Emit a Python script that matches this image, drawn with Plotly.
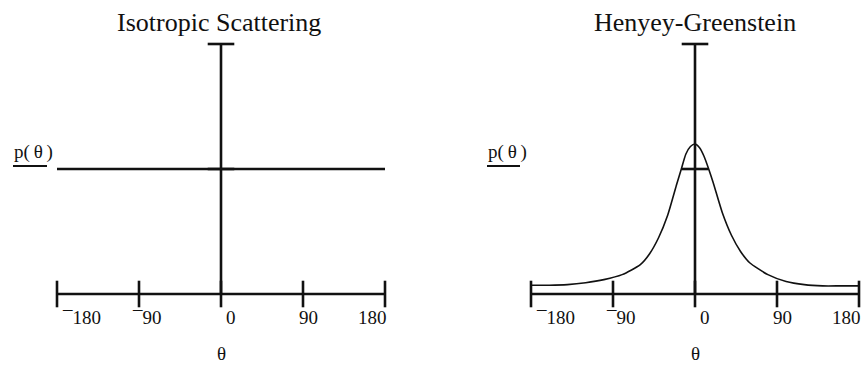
import plotly.graph_objects as go

# ---------------- data ----------------
titles = ["Isotropic Scattering", "Henyey-Greenstein"]
tick_vals = [-180, -90, 0, 90, 180]
tick_text = ["\u00af180", "\u00af90", "0", "90", "180"]
x_label = "\u03b8"
y_label = "p(\u2009\u03b8\u2009)"

iso_theta = [-180, 180]
iso_p = [1.0, 1.0]

hg_theta = [-180, -160, -140, -120, -100, -80, -60, -50, -40, -30, -20, -15, -10, -5, 0,
            5, 10, 15, 20, 30, 40, 50, 60, 80, 100, 120, 140, 160, 180]
hg_p = [0.07, 0.07, 0.075, 0.09, 0.115, 0.155, 0.235, 0.32, 0.45, 0.63, 0.88, 1.0, 1.12, 1.18, 1.20,
        1.17, 1.10, 1.0, 0.89, 0.65, 0.47, 0.34, 0.25, 0.155, 0.10, 0.075, 0.065, 0.065, 0.065]

y_axis_top = 2.0
y_mid_tick = 1.0

# ---------------- layout geometry (window pixels) ----------------
W, H = 864, 365
SCALE_X = 0.9111          # px per degree
SCALE_Y = 125.0           # px per unit
AXIS_Y_PX = 294
CENTERS = [221, 695]
X_DOMAINS_PX = [(20, 420), (450, 864)]
Y_DOMAIN_PX = (28, 318)

FONT = "Liberation Serif, Times New Roman, serif"
INK = "#111111"
LW = 2.6

label_xshift = [24, 8, 10, 5, -13]


def fx(px):
    return px / W


def fy(px):
    return 1 - px / H


fig = go.Figure()

for i in range(2):
    xa = "x" if i == 0 else "x2"
    ya = "y" if i == 0 else "y2"
    c = CENTERS[i]
    a, b = X_DOMAINS_PX[i]
    xr = [(a - c) / SCALE_X, (b - c) / SCALE_X]
    yr = [(AXIS_Y_PX - Y_DOMAIN_PX[1]) / SCALE_Y, (AXIS_Y_PX - Y_DOMAIN_PX[0]) / SCALE_Y]
    axkw = dict(visible=False, fixedrange=True)
    fig.update_layout(**{
        ("xaxis" if i == 0 else "xaxis2"): dict(domain=[fx(a), min(fx(b), 1.0)], range=xr,
                                               anchor=ya, **axkw),
        ("yaxis" if i == 0 else "yaxis2"): dict(domain=[fy(Y_DOMAIN_PX[1]), fy(Y_DOMAIN_PX[0])],
                                               range=yr, anchor=xa, **axkw),
    })

    # axis lines
    fig.add_trace(go.Scatter(x=[tick_vals[0], tick_vals[-1]], y=[0, 0], mode="lines",
                             line=dict(color=INK, width=LW), xaxis=xa, yaxis=ya,
                             showlegend=False, hoverinfo="skip"))
    fig.add_trace(go.Scatter(x=[0, 0], y=[0, y_axis_top], mode="lines",
                             line=dict(color=INK, width=LW), xaxis=xa, yaxis=ya,
                             showlegend=False, hoverinfo="skip"))
    # x ticks (crossing)
    fig.add_trace(go.Scatter(x=tick_vals, y=[0] * len(tick_vals), mode="markers",
                             marker=dict(symbol="line-ns", size=19,
                                         line=dict(color=INK, width=LW)),
                             cliponaxis=False, xaxis=xa, yaxis=ya,
                             showlegend=False, hoverinfo="skip"))
    # y ticks: top end cap, and middle tick
    fig.add_trace(go.Scatter(x=[0, 0], y=[y_axis_top, y_mid_tick], mode="markers",
                             marker=dict(symbol="line-ew", size=19,
                                         line=dict(color=INK, width=LW)),
                             cliponaxis=False, xaxis=xa, yaxis=ya,
                             showlegend=False, hoverinfo="skip"))

    # tick labels
    for v, t, dx in zip(tick_vals, tick_text, label_xshift):
        fig.add_annotation(x=v, y=0, xref=xa, yref=ya, text=t, showarrow=False,
                           xanchor="center", yanchor="middle", xshift=dx, yshift=-23,
                           font=dict(family=FONT, size=19, color=INK))
    # theta label
    fig.add_annotation(x=0, y=0, xref=xa, yref=ya, text=x_label, showarrow=False,
                       xanchor="center", yanchor="middle", yshift=-59,
                       font=dict(family=FONT, size=19, color=INK))

# data curves
fig.add_trace(go.Scatter(x=iso_theta, y=iso_p, mode="lines",
                         line=dict(color=INK, width=LW), xaxis="x", yaxis="y",
                         showlegend=False))
fig.add_trace(go.Scatter(x=hg_theta, y=hg_p, mode="lines",
                         line=dict(color=INK, width=1.6, shape="spline", smoothing=0.6),
                         xaxis="x2", yaxis="y2", showlegend=False))

# titles
for cx, t in zip([219, 695], titles):
    fig.add_annotation(x=fx(cx), y=fy(6), xref="paper", yref="paper", text=t,
                       showarrow=False, xanchor="center", yanchor="top",
                       font=dict(family=FONT, size=26, color=INK))

# p(theta) labels with underline
for lx, ux in zip([12, 486], [(13, 47), (487, 520)]):
    fig.add_annotation(x=fx(lx), y=fy(152), xref="paper", yref="paper", text=y_label,
                       showarrow=False, xanchor="left", yanchor="middle",
                       font=dict(family=FONT, size=19, color=INK))
    fig.add_shape(type="line", xref="paper", yref="paper",
                  x0=fx(ux[0]), x1=fx(ux[1]), y0=fy(166), y1=fy(166),
                  line=dict(color=INK, width=2.2))

fig.update_layout(width=W, height=H, margin=dict(l=0, r=0, t=0, b=0),
                  paper_bgcolor="white", plot_bgcolor="rgba(0,0,0,0)",
                  showlegend=False)

fig.write_html("out.html",
               config={"displayModeBar": False, "staticPlot": True},
               post_script="document.body.style.margin='0';"
                           "document.documentElement.style.overflow='hidden';")
